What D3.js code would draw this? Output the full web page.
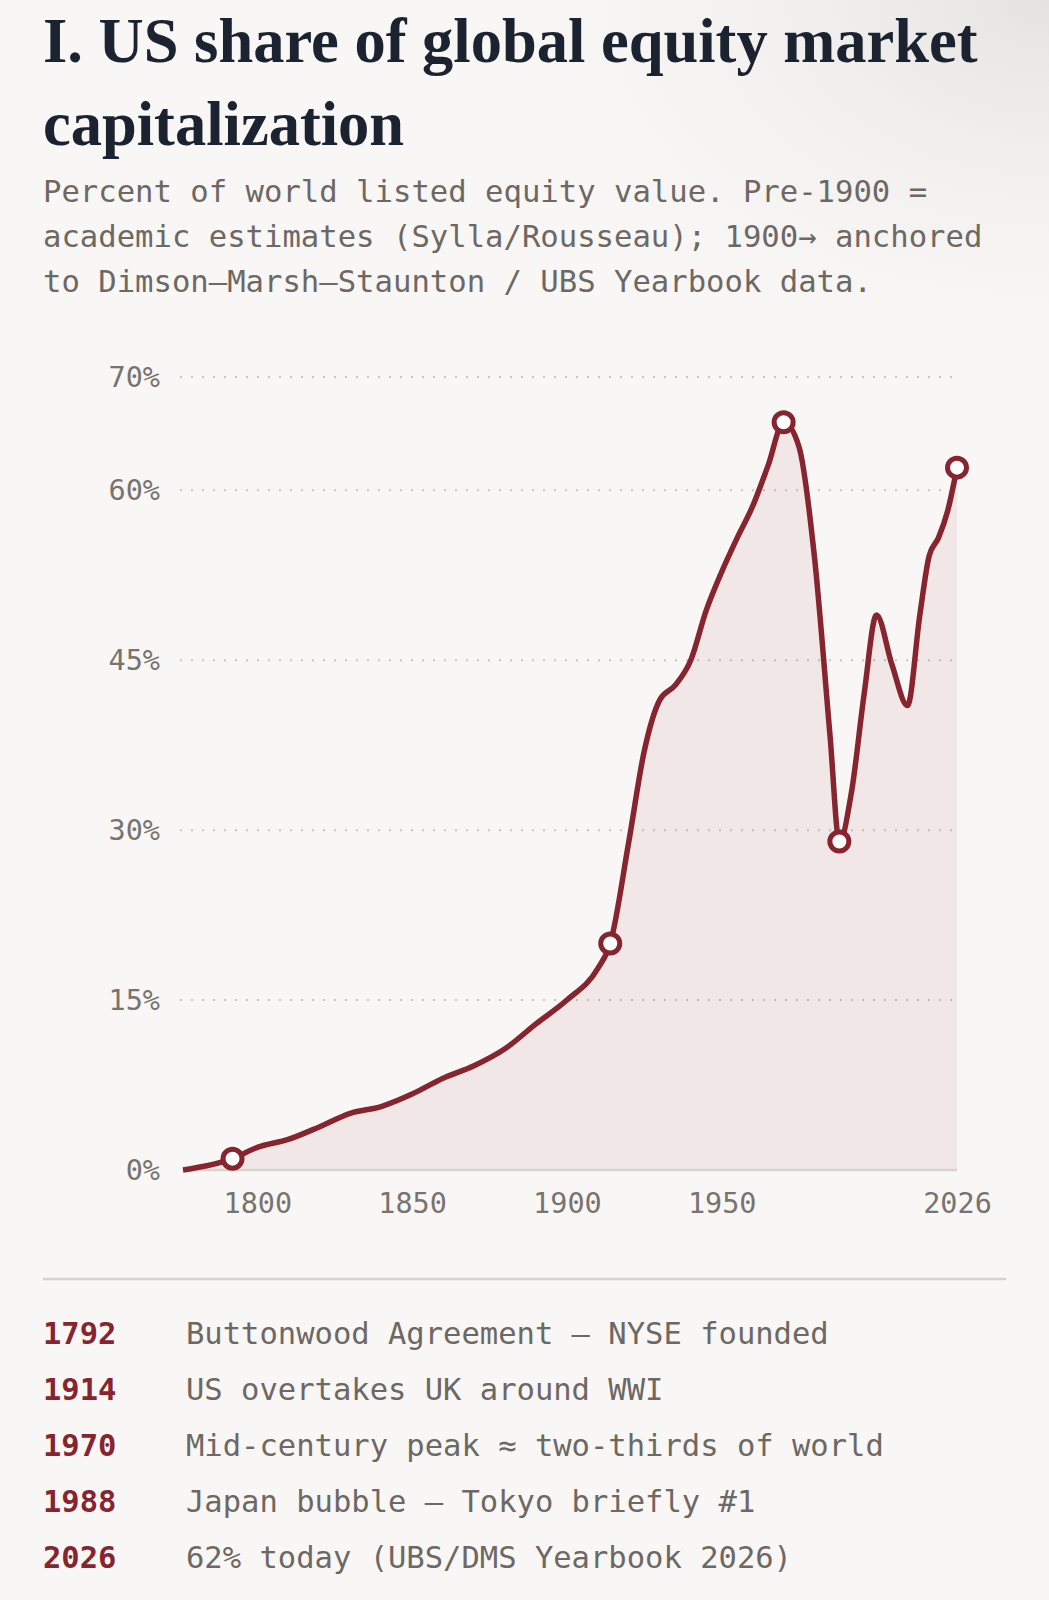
<!DOCTYPE html>
<html>
<head>
<meta charset="utf-8">
<script src="https://cdn.jsdelivr.net/npm/d3@7"></script>
<style>
  html, body { margin: 0; padding: 0; background: #f8f7f5; }
  svg { display: block; }
  .title { font-family: "Liberation Serif", serif; font-weight: bold; fill: #1b2230; font-size: 62.5px; }
  .subtitle { font-family: "DejaVu Sans Mono", monospace; fill: #6d6863; font-size: 30.6px; }
  .tick text { font-family: "DejaVu Sans Mono", monospace; fill: #78736e; font-size: 28.5px; }
  .event-year { font-family: "DejaVu Sans Mono", monospace; font-weight: bold; fill: #862430; font-size: 30.5px; }
  .event-note { font-family: "DejaVu Sans Mono", monospace; fill: #6d6863; font-size: 30.5px; }
</style>
</head>
<body>
<svg id="chart"></svg>
<script>
// data (US % of world equity market cap)
const years = [1776, 1792, 1800, 1810, 1820, 1830, 1840, 1850, 1860, 1870, 1880, 1890, 1900, 1910, 1914,
  1920, 1925, 1930, 1935, 1940, 1945, 1950, 1955, 1960, 1965, 1970, 1975, 1980, 1985, 1988,
  1992, 1996, 2000, 2005, 2010, 2014, 2017, 2020, 2023, 2026];
const shares = [0, 1.0, 2.0, 2.7, 3.8, 5.0, 5.6, 6.7, 8.1, 9.2, 10.7, 12.9, 15.0, 17.8, 20.0,
  29.0, 37.0, 41.5, 42.8, 45.0, 49.4, 52.8, 55.8, 58.6, 62.2, 66.0, 63.8, 54.0, 38.3, 29.0,
  33.5, 42.0, 49.0, 44.6, 41.0, 49.0, 54.2, 55.8, 58.2, 62.0];

const markerYears = [1792, 1914, 1970, 1988, 2026];
const yTicks = [0, 15, 30, 45, 60, 70];
const xTicks = [1800, 1850, 1900, 1950, 2026];

const titleLines = ["I. US share of global equity market", "capitalization"];
const subtitleLines = [
  "Percent of world listed equity value. Pre-1900 =",
  "academic estimates (Sylla/Rousseau); 1900\u2192 anchored",
  "to Dimson\u2013Marsh\u2013Staunton / UBS Yearbook data."
];

const eventYears = ["1792", "1914", "1970", "1988", "2026"];
const eventNotes = [
  "Buttonwood Agreement \u2014 NYSE founded",
  "US overtakes UK around WWI",
  "Mid-century peak \u2248 two-thirds of world",
  "Japan bubble \u2014 Tokyo briefly #1",
  "62% today (UBS/DMS Yearbook 2026)"
];

const red = "#862430";

//sizes
const W = 1049, H = 1600;
const margin = { top: 377, left: 183 };
const width = 774;
const height = 1170 - margin.top;

const svg = d3.select("#chart").attr("width", W).attr("height", H);

// faint shading in the top right corner
const defs = svg.append("defs");
const grad = defs.append("radialGradient").attr("id", "corner")
  .attr("cx", 1).attr("cy", 0).attr("r", 0.6);
grad.append("stop").attr("offset", "0%").attr("stop-color", "#e4e3e1");
grad.append("stop").attr("offset", "100%").attr("stop-color", "#f8f7f5").attr("stop-opacity", 0);
svg.append("rect").attr("width", W).attr("height", H).attr("fill", "#f8f7f5");
svg.append("rect").attr("width", W).attr("height", 700).attr("fill", "url(#corner)");

// title + subtitle
svg.selectAll(".title").data(titleLines).enter().append("text")
  .attr("class", "title")
  .attr("x", 43)
  .attr("y", (d, i) => 62 + i * 83)
  .text(d => d);

svg.selectAll(".subtitle").data(subtitleLines).enter().append("text")
  .attr("class", "subtitle")
  .attr("x", 43)
  .attr("y", (d, i) => 202 + i * 45)
  .text(d => d);

// scales
const x = d3.scaleLinear().domain([1776, 2026]).range([0, width]);
const y = d3.scaleLinear().domain([0, 70]).range([height, 0]);

const g = svg.append("g").attr("transform", `translate(${margin.left}, ${margin.top})`);

// grid
g.selectAll(".grid").data(yTicks.filter(d => d > 0)).enter().append("line")
  .attr("class", "grid")
  .attr("x1", -3).attr("x2", width)
  .attr("y1", d => y(d)).attr("y2", d => y(d))
  .attr("stroke", "#c9c4bf")
  .attr("stroke-width", 2)
  .attr("stroke-dasharray", "2,9");

const data = years.map((yr, i) => ({ year: yr, value: shares[i] }));

// area + line
const area = d3.area()
  .x(d => x(d.year))
  .y0(y(0))
  .y1(d => y(d.value))
  .curve(d3.curveMonotoneX);

const line = d3.line()
  .x(d => x(d.year))
  .y(d => y(d.value))
  .curve(d3.curveMonotoneX);

g.append("path").datum(data)
  .attr("d", area)
  .attr("fill", "#a8323c")
  .attr("fill-opacity", 0.08);

g.append("line")
  .attr("x1", 0).attr("x2", width)
  .attr("y1", y(0)).attr("y2", y(0))
  .attr("stroke", "#d8d3cf")
  .attr("stroke-width", 2.5);

g.append("path").datum(data)
  .attr("d", line)
  .attr("fill", "none")
  .attr("stroke", red)
  .attr("stroke-width", 5.5)
  .attr("stroke-linejoin", "round")
  .attr("stroke-linecap", "butt");

// markers
const markers = data.filter(d => markerYears.includes(d.year));
g.selectAll(".marker").data(markers).enter().append("circle")
  .attr("class", "marker")
  .attr("cx", d => x(d.year))
  .attr("cy", d => y(d.value))
  .attr("r", 9.5)
  .attr("fill", "#ffffff")
  .attr("stroke", red)
  .attr("stroke-width", 5);

// axes
const yAxis = g.append("g")
  .call(d3.axisLeft(y).tickValues(yTicks).tickFormat(d => d + "%").tickSize(0).tickPadding(23));
yAxis.select(".domain").remove();

const xAxis = g.append("g")
  .attr("transform", `translate(0, ${height})`)
  .call(d3.axisBottom(x).tickValues(xTicks).tickFormat(d3.format("d")).tickSize(0).tickPadding(23));
xAxis.select(".domain").remove();

// separator
svg.append("line")
  .attr("x1", 43).attr("x2", 1006)
  .attr("y1", 1279).attr("y2", 1279)
  .attr("stroke", "#d6d2ce")
  .attr("stroke-width", 2.5);

// events list
const rows = svg.selectAll(".event").data(eventYears).enter().append("g")
  .attr("class", "event")
  .attr("transform", (d, i) => `translate(0, ${1344 + i * 56})`);

rows.append("text").attr("class", "event-year").attr("x", 43).text(d => d);
rows.append("text").attr("class", "event-note").attr("x", 186).text((d, i) => eventNotes[i]);
</script>
</body>
</html>
